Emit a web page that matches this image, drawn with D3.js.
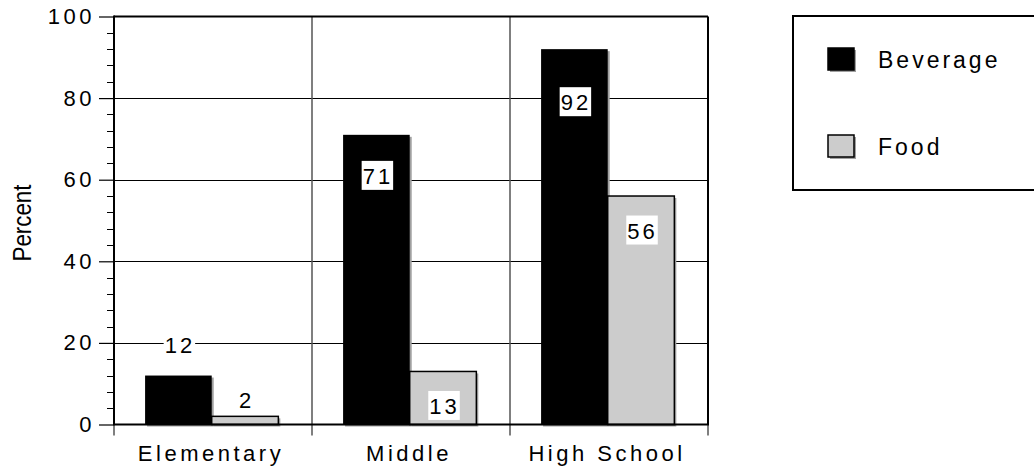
<!DOCTYPE html>
<html>
<head>
<meta charset="utf-8">
<script src="https://cdn.jsdelivr.net/npm/d3@7"></script>
<style>
  html, body { margin: 0; padding: 0; background: #fff; }
  svg { display: block; }
  text { font-family: Arial, "Liberation Sans", sans-serif; fill: #000; }
</style>
</head>
<body>
<svg id="chart" width="1034" height="466"></svg>
<script>
const categories = ["Elementary", "Middle", "High School"];
const seriesNames = ["Beverage", "Food"];
const beverage = [12, 71, 92];
const food = [2, 13, 56];
const yTicks = [0, 20, 40, 60, 80, 100];
const yLabel = "Percent";

const colors = { Beverage: "#000000", Food: "#cccccc" };
const W = 1034, H = 466;
const margin = { top: 16.5, right: 326, bottom: 41.5, left: 114 };
const svg = d3.select("#chart");

const x = d3.scaleBand().domain(categories).range([margin.left, W - margin.right]).paddingInner(0).paddingOuter(0);
const bw = x.bandwidth();
const xs = d3.scaleBand().domain(seriesNames).range([bw * 0.157, bw * 0.83]).padding(0);
const y = d3.scaleLinear().domain([0, 100]).range([H - margin.bottom, margin.top]);

const rows = categories.map((c, i) => ({ cat: c, vals: [
  { s: "Beverage", v: beverage[i] }, { s: "Food", v: food[i] }] }));

// horizontal gridlines
svg.append("g").selectAll("line").data(yTicks.filter(t => t > 0 && t < 100)).join("line")
  .attr("x1", margin.left).attr("x2", W - margin.right)
  .attr("y1", d => Math.round(y(d)) + 0.5).attr("y2", d => Math.round(y(d)) + 0.5)
  .attr("stroke", "#000").attr("stroke-width", 1);

// vertical category separators
svg.append("g").selectAll("line").data(categories.slice(1)).join("line")
  .attr("x1", d => x(d)).attr("x2", d => x(d))
  .attr("y1", margin.top).attr("y2", y(0))
  .attr("stroke", "#555").attr("stroke-width", 1.5);

// bars
const groups = svg.append("g").selectAll("g").data(rows).join("g")
  .attr("transform", d => `translate(${x(d.cat)},0)`);

groups.selectAll("rect.shadow").data(d => d.vals).join("rect").attr("class", "shadow")
  .attr("x", d => xs(d.s) + 2).attr("y", d => y(d.v) + 2)
  .attr("width", xs.bandwidth()).attr("height", d => y(0) - y(d.v))
  .attr("fill", "#a0a0a0");

groups.selectAll("rect.bar").data(d => d.vals).join("rect").attr("class", "bar")
  .attr("x", d => xs(d.s)).attr("y", d => y(d.v))
  .attr("width", xs.bandwidth()).attr("height", d => y(0) - y(d.v))
  .attr("fill", d => colors[d.s])
  .attr("stroke", "#000").attr("stroke-width", d => d.s === "Food" ? 1.5 : 0);

// value labels
const labH = 29;
groups.each(function(d) {
  const g = d3.select(this);
  d.vals.forEach(p => {
    const top = y(p.v);
    const h = y(0) - top;
    let cy;
    if (h < 51) cy = y(p.v * 1.325 + 3.6);
    else cy = Math.max(y(p.v * 0.86), top + 34);
    const cx = xs(p.s) + xs.bandwidth() / 2;
    const t = g.append("text")
      .attr("x", cx + 1.5).attr("y", cy + 1)
      .attr("text-anchor", "middle").attr("dominant-baseline", "central")
      .style("font-size", "22px").style("letter-spacing", "3px")
      .text(p.v);
    const bb = t.node().getBBox();
    g.insert("rect", "text")
      .attr("x", bb.x - 1).attr("y", cy - labH / 2)
      .attr("width", bb.width + 1).attr("height", labH)
      .attr("fill", "#fff");
  });
});

// frame: top and right
svg.append("line").attr("x1", margin.left).attr("x2", W - margin.right)
  .attr("y1", margin.top).attr("y2", margin.top).attr("stroke", "#000").attr("stroke-width", 2);
svg.append("line").attr("x1", W - margin.right).attr("x2", W - margin.right)
  .attr("y1", margin.top).attr("y2", y(0)).attr("stroke", "#000").attr("stroke-width", 2);

// y axis
const minor = d3.range(0, 101, 4).filter(v => v % 20 !== 0);
svg.append("g").selectAll("line").data(minor).join("line")
  .attr("x1", margin.left - 7).attr("x2", margin.left)
  .attr("y1", d => Math.round(y(d)) + 0.5).attr("y2", d => Math.round(y(d)) + 0.5)
  .attr("stroke", "#000").attr("stroke-width", 1);
const yAxis = d3.axisLeft(y).tickValues(yTicks).tickSize(15).tickPadding(8).tickFormat(d3.format("d"));
const ya = svg.append("g").attr("transform", `translate(${margin.left},0)`).call(yAxis);
ya.select(".domain").remove();
ya.selectAll(".tick line").attr("stroke", "#000").attr("stroke-width", 1.2);
ya.selectAll(".tick text").style("font-size", "22px").style("letter-spacing", "3.5px")
  .style("font-family", "Arial, 'Liberation Sans', sans-serif").attr("dx", "4px");
svg.append("line").attr("x1", margin.left).attr("x2", margin.left)
  .attr("y1", margin.top - 1).attr("y2", y(0) + 1).attr("stroke", "#000").attr("stroke-width", 2);

// x axis
const xBounds = [margin.left, ...categories.slice(1).map(c => x(c)), W - margin.right];
svg.append("g").selectAll("line").data(xBounds).join("line")
  .attr("x1", d => d).attr("x2", d => d).attr("y1", y(0)).attr("y2", y(0) + 11)
  .attr("stroke", "#555").attr("stroke-width", 1.5);
svg.append("line").attr("x1", margin.left - 1).attr("x2", W - margin.right + 1)
  .attr("y1", y(0)).attr("y2", y(0)).attr("stroke", "#000").attr("stroke-width", 2);
svg.append("g").selectAll("text").data(categories).join("text")
  .attr("x", d => x(d) + bw / 2 - 2).attr("y", 461)
  .attr("text-anchor", "middle")
  .style("font-size", "22px").style("letter-spacing", "3.5px")
  .text(d => d);

// y label
svg.append("text")
  .attr("transform", `translate(31,223) rotate(-90)`)
  .attr("text-anchor", "middle")
  .attr("textLength", 77).attr("lengthAdjust", "spacingAndGlyphs")
  .style("font-family", "'Liberation Sans Narrow', 'Arial Narrow', Arial, sans-serif")
  .style("font-size", "26px")
  .text(yLabel);

// legend
const lg = svg.append("g");
lg.append("rect").attr("x", 793).attr("y", 16).attr("width", 260).attr("height", 174)
  .attr("fill", "#fff").attr("stroke", "#000").attr("stroke-width", 2);
const legItems = lg.selectAll("g").data(seriesNames).join("g")
  .attr("transform", (d, i) => `translate(828,${i === 0 ? 48 : 135})`);
legItems.append("rect").attr("x", 2).attr("y", 2).attr("width", 26).attr("height", 22).attr("fill", "#a0a0a0");
legItems.append("rect").attr("x", 0).attr("y", 0).attr("width", 26).attr("height", 22)
  .attr("fill", d => colors[d]).attr("stroke", "#000").attr("stroke-width", 1.5);
legItems.append("text").attr("x", 50).attr("y", 20)
  .style("font-size", "23px").style("letter-spacing", "3px")
  .text(d => d);
</script>
</body>
</html>
